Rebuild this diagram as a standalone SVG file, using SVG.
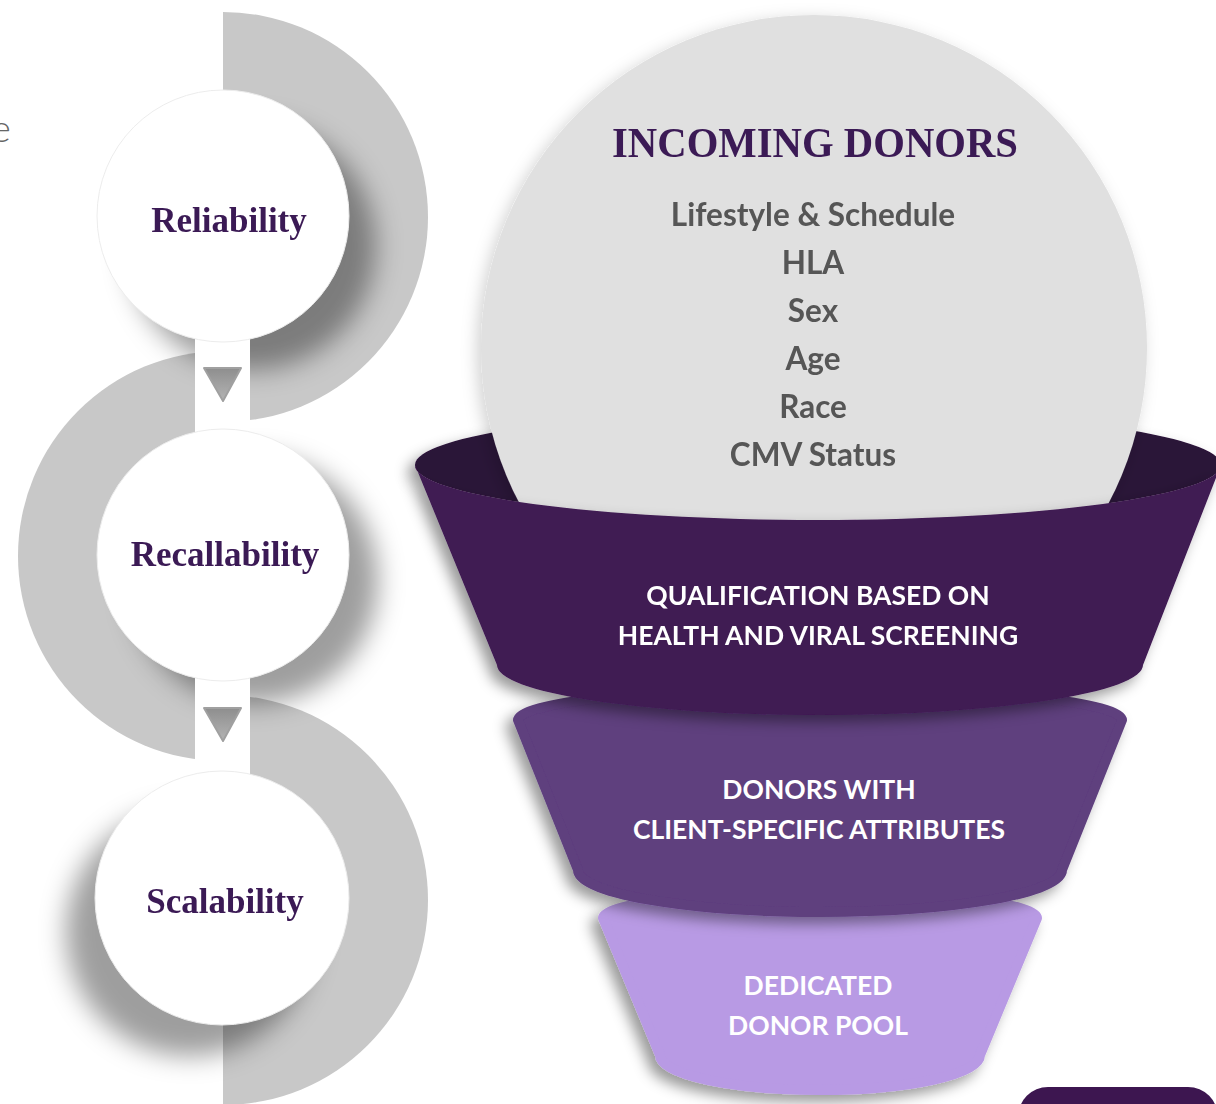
<svg xmlns="http://www.w3.org/2000/svg" width="1216" height="1104" viewBox="0 0 1216 1104">
<style>
.band{fill:#c8c8c8}
.disc{fill:#ffffff;stroke:#ececec;stroke-width:1}
.lbl{font-family:"Liberation Serif","Times New Roman",serif;font-weight:700;font-size:35px;fill:#3b1a55;text-anchor:middle}
.item{font-family:Lato,"Noto Sans",sans-serif;font-weight:700;font-size:31.5px;fill:#565656;text-anchor:middle}
.ftxt{font-family:Lato,"Noto Sans",sans-serif;font-weight:700;font-size:26.5px;fill:#ffffff;text-anchor:middle}
.tri{fill:url(#triG)}
</style>
<defs>
<linearGradient id="triG" x1="0" y1="0" x2="0" y2="1">
<stop offset="0" stop-color="#8e8e8e"/>
<stop offset="1" stop-color="#b4b4b4"/>
</linearGradient>
<filter id="blur" x="-50%" y="-50%" width="200%" height="200%">
<feGaussianBlur stdDeviation="13"/>
</filter>
<filter id="ds" x="-20%" y="-20%" width="140%" height="140%">
<feDropShadow dx="-7" dy="7" stdDeviation="7" flood-color="#000" flood-opacity="0.4"/>
</filter>
<filter id="ds2" x="-20%" y="-20%" width="140%" height="140%">
<feDropShadow dx="-4" dy="4" stdDeviation="8" flood-color="#000" flood-opacity="0.18"/>
</filter>
</defs>
<rect width="1216" height="1104" fill="#ffffff"/>
<text x="-9" y="142" font-family="Lato,'Noto Sans',sans-serif" font-weight="300" font-size="38" fill="#666">e</text>

<g id="left-bands">
<path class="band" d="M223,12 A205,205 0 0 1 223,422 Z"/>
<path class="band" d="M223,351 A205,205 0 0 0 223,761 Z"/>
<path class="band" d="M223,695 A205,205 0 0 1 223,1105 Z"/>
</g>
<g id="shadows" filter="url(#blur)">
<circle cx="252" cy="246" r="124" fill="#000" opacity="0.38"/>
<circle cx="254" cy="580" r="124" fill="#000" opacity="0.38"/>
<circle cx="190" cy="932" r="124" fill="#000" opacity="0.38"/>
</g>
<g id="connectors">
<rect x="195" y="320" width="55" height="125" fill="#ffffff"/>
<rect x="195" y="660" width="55" height="125" fill="#ffffff"/>
<path class="tri" d="M204,368 L241,368 L223,401 Z" stroke="#a0a0a0" stroke-width="2" stroke-linejoin="round"/>
<path class="tri" d="M204,708 L241,708 L223,741 Z" stroke="#a0a0a0" stroke-width="2" stroke-linejoin="round"/>
</g>
<g id="node-reliability">
<circle class="disc" cx="223" cy="216" r="126"/>
<text class="lbl" x="229" y="232">Reliability</text>
</g>
<g id="node-recallability">
<circle class="disc" cx="223" cy="555" r="126"/>
<text class="lbl" x="225" y="566">Recallability</text>
</g>
<g id="node-scalability">
<circle class="disc" cx="222" cy="898" r="127"/>
<text class="lbl" x="225" y="913">Scalability</text>
</g>

<g id="node-pool">
<path d="M603,918 A217,26 0 0 1 1037,918 L980,1055 A160,35 0 0 1 660,1055 Z" fill="#b89ae4" stroke="#b89ae4" stroke-width="10" stroke-linejoin="round" filter="url(#ds)"/>
<text class="ftxt" x="818" y="995" fill="#f6f0ff">DEDICATED</text>
<text class="ftxt" x="818" y="1035" fill="#f6f0ff">DONOR POOL</text>
</g>
<g id="node-attributes">
<path d="M518,720 A302,32 0 0 1 1122,720 L1062,870 A242,42 0 0 1 578,870 Z" fill="#5e3f7e" stroke="#5e3f7e" stroke-width="10" stroke-linejoin="round" filter="url(#ds)"/>
<text class="ftxt" x="819" y="799">DONORS WITH</text>
<text class="ftxt" x="819" y="839">CLIENT-SPECIFIC ATTRIBUTES</text>
</g>
<g id="node-incoming">
<ellipse cx="818" cy="465" rx="403" ry="55" fill="#2a1238" filter="url(#ds)"/>
<circle cx="814" cy="348" r="333" fill="#e0e0e0" filter="url(#ds2)"/>
<text x="815" y="157" font-family="'Liberation Serif','Times New Roman',serif" font-weight="700" font-size="43" fill="#3b1a55" text-anchor="middle" textLength="406" lengthAdjust="spacingAndGlyphs">INCOMING DONORS</text>
<text class="item" x="813" y="226">Lifestyle &amp; Schedule</text>
<text class="item" x="813" y="274">HLA</text>
<text class="item" x="813" y="322">Sex</text>
<text class="item" x="813" y="370">Age</text>
<text class="item" x="813" y="418">Race</text>
<text class="item" x="813" y="466">CMV Status</text>
</g>
<g id="node-qualification">
<path d="M415,465 A403,55 0 0 0 1221,465 L1143,665 A323,50 0 0 1 497,665 Z" fill="#3f1a52" filter="url(#ds)"/>
<text class="ftxt" x="818" y="605">QUALIFICATION BASED ON</text>
<text class="ftxt" x="818" y="645">HEALTH AND VIRAL SCREENING</text>
</g>
<rect x="1018" y="1087" width="200" height="60" rx="30" fill="#3d1650"/>
</svg>
